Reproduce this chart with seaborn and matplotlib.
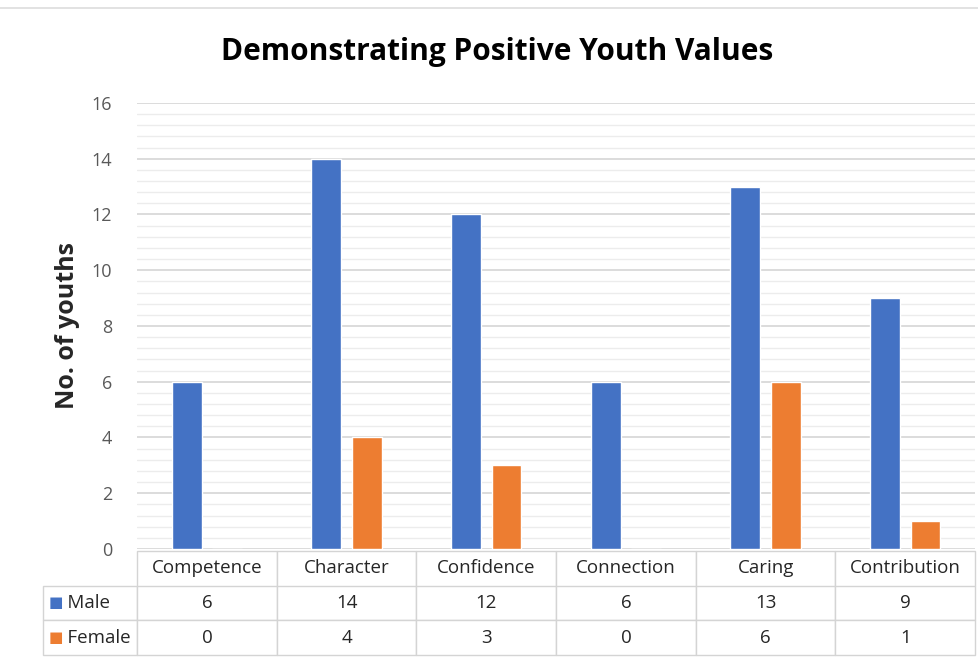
import matplotlib
matplotlib.use('Agg')
import matplotlib.pyplot as plt
import seaborn as sns
import pandas as pd
from matplotlib.ticker import MultipleLocator
from matplotlib.lines import Line2D

# chart data
categories = ['Competence', 'Character', 'Confidence', 'Connection', 'Caring', 'Contribution']
series_names = ['Male', 'Female']
male = [6, 14, 12, 6, 13, 9]
female = [0, 4, 3, 0, 6, 1]
colors = ['#4472C4', '#ED7D31']

df = pd.DataFrame({
    'Category': categories * 2,
    'Gender': ['Male'] * len(categories) + ['Female'] * len(categories),
    'Youths': male + female,
})

sns.set_style('white')
plt.rcParams['font.family'] = ['Open Sans', 'DejaVu Sans']

fig = plt.figure(figsize=(9.79, 6.66), dpi=100)
ax = fig.add_axes([0.140, 0.1757, 0.856, 0.6697])

sns.barplot(data=df, x='Category', y='Youths', hue='Gender', order=categories,
            hue_order=series_names, palette=colors, width=0.58, gap=0.26,
            saturation=1, legend=False, ax=ax)

ax.set_ylim(0, 16)
ax.set_xlim(-0.5, len(categories) - 0.5)
ax.yaxis.set_major_locator(MultipleLocator(2))
ax.yaxis.set_minor_locator(MultipleLocator(0.4))
ax.grid(True, which='major', axis='y', color='#d6d6d6', linewidth=1.2)
ax.grid(True, which='minor', axis='y', color='#ececec', linewidth=1.0)
ax.set_axisbelow(True)
for s in ax.spines.values():
    s.set_visible(False)
ax.tick_params(axis='y', which='both', length=0, pad=18, labelsize=13, labelcolor='#595959')
ax.set_xticks([])
ax.set_xlabel('')
ax.set_ylabel('No. of youths', fontsize=18, fontweight='bold', labelpad=8)

fig.text(0.508, 0.922, 'Demonstrating Positive Youth Values', ha='center', va='center',
         fontsize=21.5, fontweight='bold', color='#000000')

# data table under the plot (first column holds the series names)
label_w = 0.112
header = [''] + categories
rows = [['     ' + series_names[0]] + [str(v) for v in male],
        ['     ' + series_names[1]] + [str(v) for v in female]]
tbl = ax.table(cellText=rows, colLabels=header, cellLoc='center',
               colWidths=[label_w] + [1 / len(categories)] * len(categories),
               bbox=[-label_w, -0.238, 1 + label_w, 0.234])
tbl.auto_set_font_size(False)
tbl.set_fontsize(13.5)
for (r, c), cell in tbl.get_celld().items():
    cell.set_edgecolor('#d4d4d4')
    cell.set_linewidth(1.0)
    cell.get_text().set_color('#262626')
    if r == 0:
        cell.visible_edges = 'LRT' if c > 0 else ''
    if c == 0 and r > 0:
        cell.get_text().set_ha('left')
        cell._loc = 'left'
        cell.PAD = 0.0

# legend keys in the row labels
row_h = 0.234 / 3
for i, col in enumerate(colors):
    yc = -0.238 + row_h * (1.5 - i)
    ax.text(-0.106, yc, '\u25A0', transform=ax.transAxes, color=col, fontsize=11,
            ha='left', va='center', family=['DejaVu Sans'])

# thin rule at top of the picture
fig.add_artist(Line2D([0, 1], [0.988, 0.988], transform=fig.transFigure, color='#dddddd', linewidth=1.2))

fig.savefig('out.png', dpi=100, facecolor='white')
